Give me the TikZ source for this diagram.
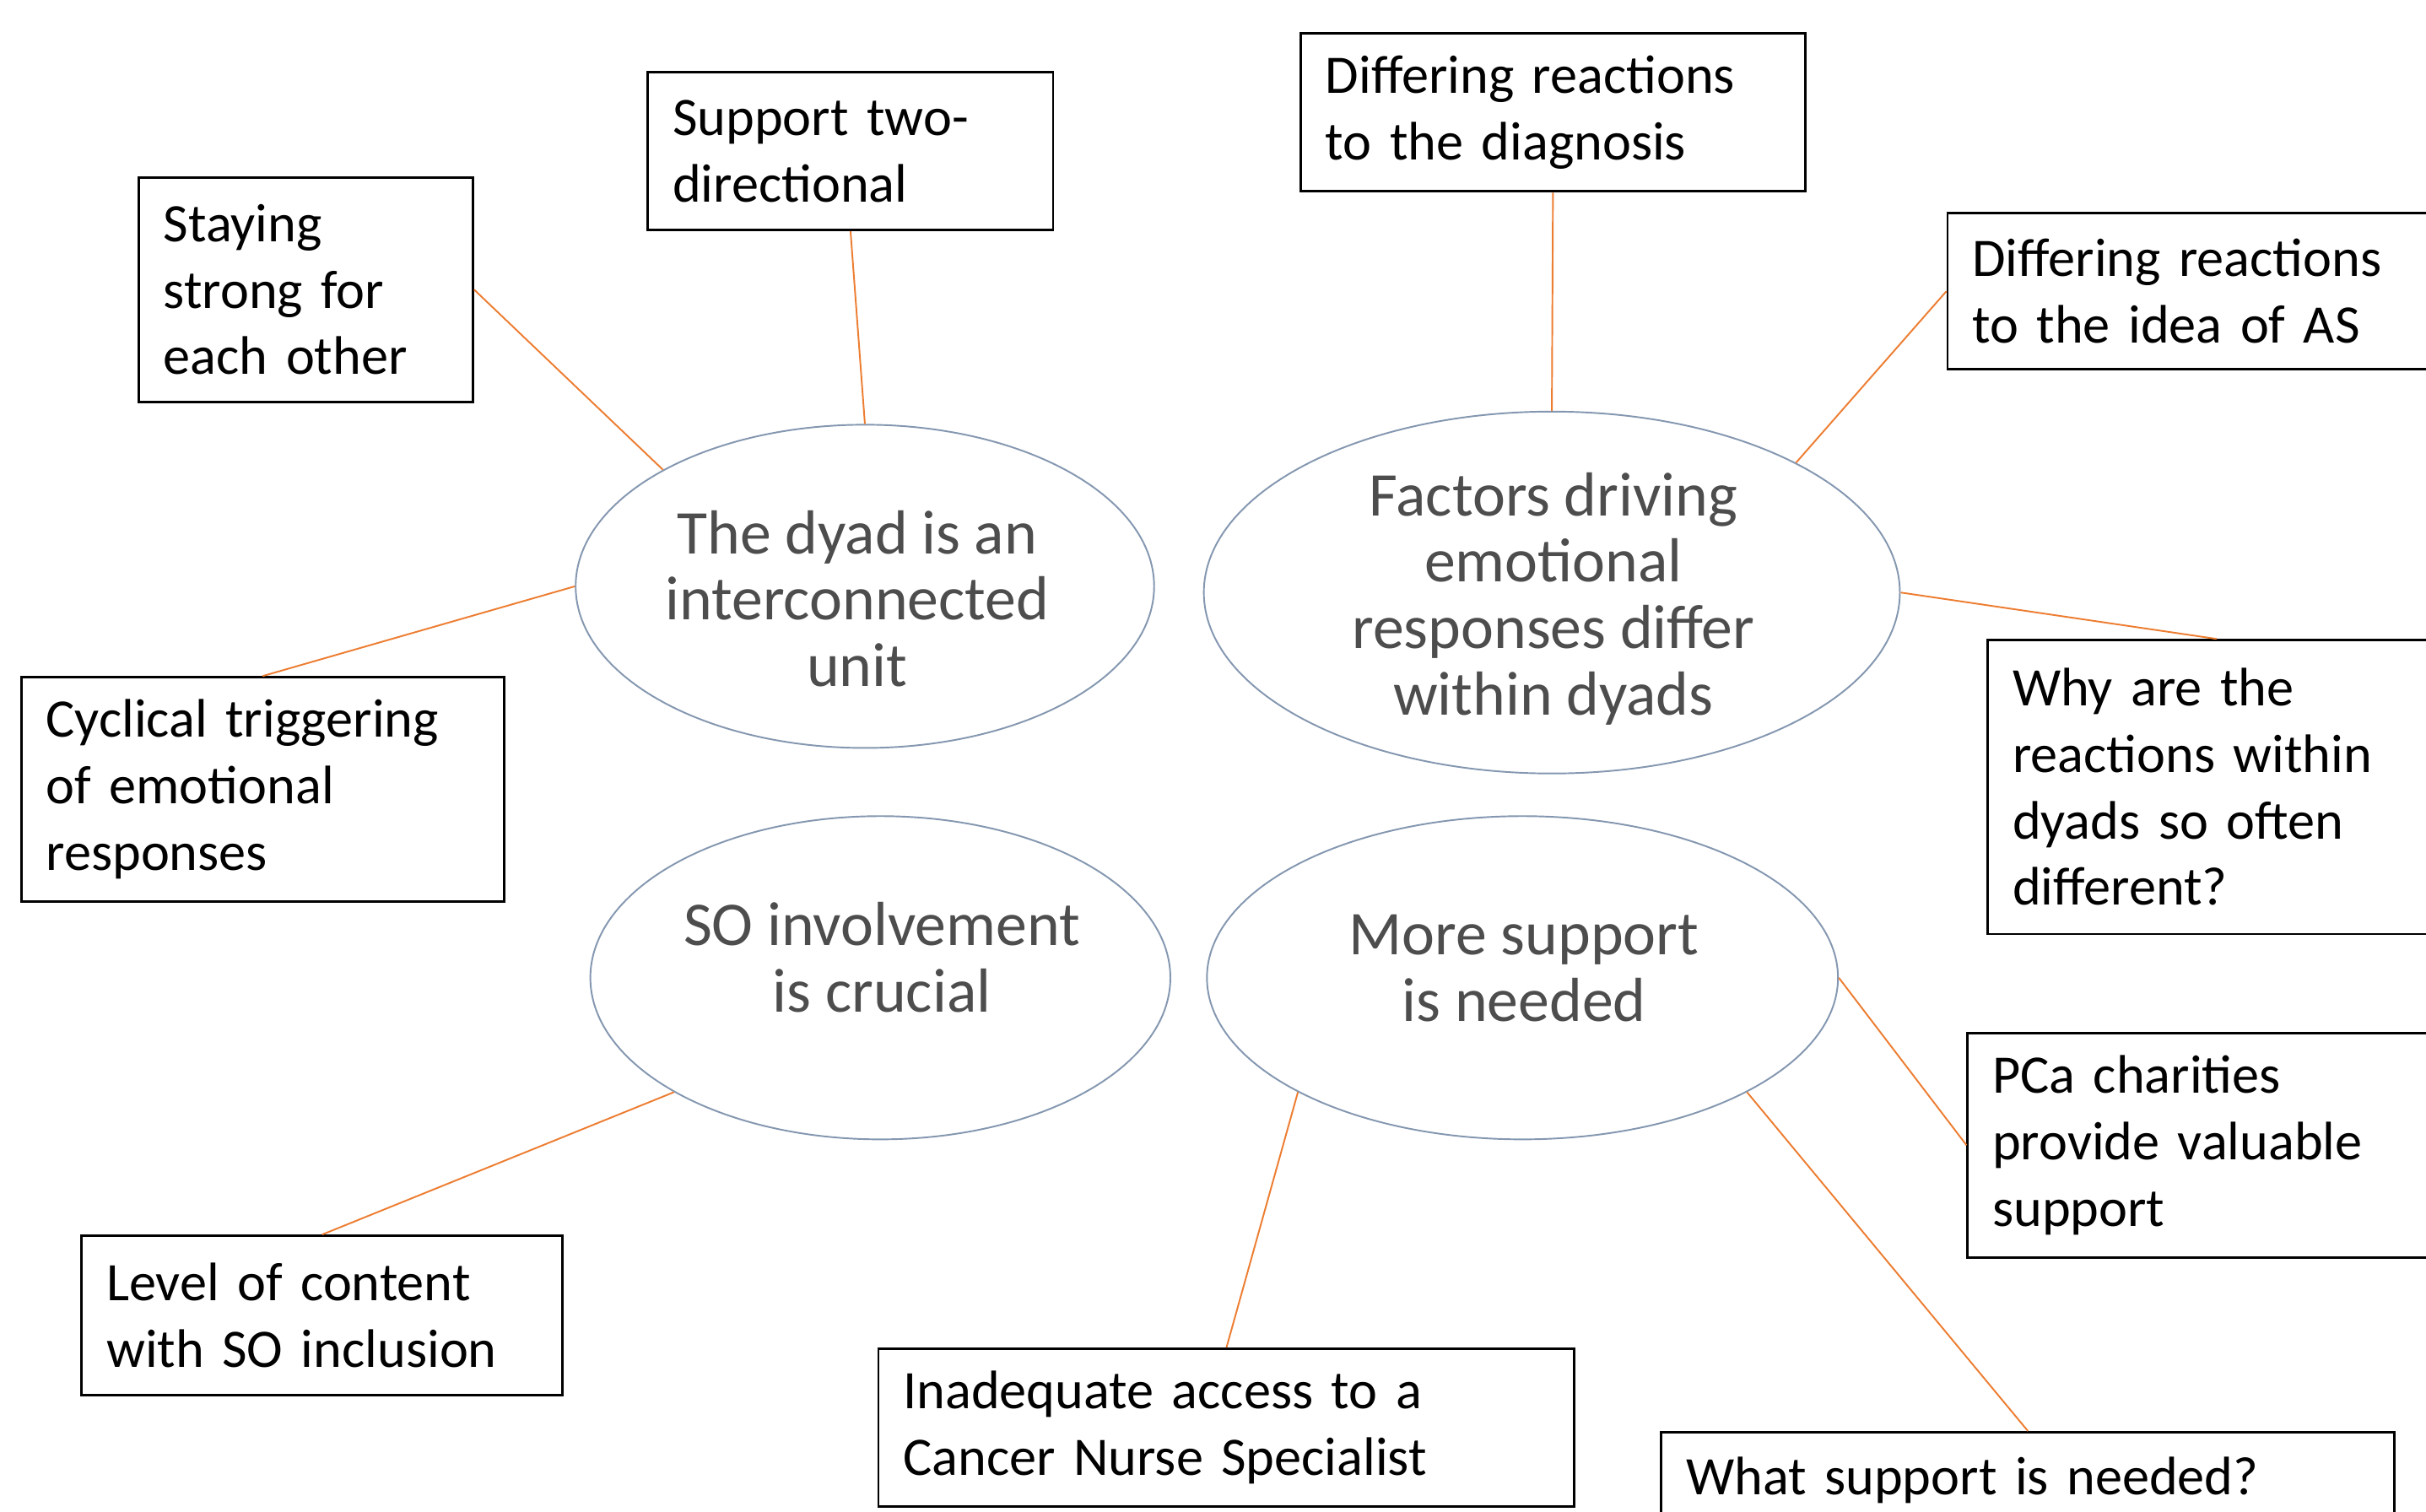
\documentclass[tikz,border=0pt]{standalone}
\usepackage{fontspec}
\setmainfont{Carlito}
\usetikzlibrary{shapes.geometric}
\def\px{0.52168pt}
\definecolor{conn}{HTML}{ED7D31}
\definecolor{ellbd}{HTML}{8497B0}
\definecolor{elltx}{HTML}{4D4D4D}
\tikzset{
  bx/.style 2 args={draw=black, line width=0.8pt, rectangle, anchor=north west,
    minimum width=#1*\px, minimum height=#2*\px, text width=#1*\px-32*\px,
    inner xsep=16*\px, inner ysep=0pt, align=left,
    font=\fontsize{18.3}{22.4}\selectfont, text=black},
  ell/.style 2 args={draw=ellbd, line width=0.55pt, ellipse, minimum width=#1*\px,
    minimum height=#2*\px, inner sep=0pt},
  etext/.style={align=center, font=\fontsize{21}{22.4}\selectfont, text=elltx, inner sep=0pt},
  link/.style={draw=conn, line width=0.55pt}
}
\begin{document}
\begin{tikzpicture}[x=0.018335cm, y=-0.018335cm]
\useasboundingbox (0,0) rectangle (1568,977);
\clip (0,0) rectangle (1568,977);
\fill[white] (0,0) rectangle (1568,977);

% ellipses
\node[ell={374}{209}] (e1) at (559,379) {};
\node[ell={450}{234}] (e2) at (1003,383) {};
\node[ell={375}{209}] (e3) at (569,632) {};
\node[ell={408}{209}] (e4) at (984,632) {};
\node[etext] (t1) at (554,387) {The dyad is an\\interconnected\\unit};
\node[etext] (t2) at (1004,387) {Factors driving\\emotional\\responses differ\\within dyads};
\node[etext] (t3) at (570,619) {SO involvement\\is crucial};
\node[etext] (t4) at (985,626) {More support\\is needed};

% boxes
\node[bx={216}{145}] (b1) at (89,114) {Staying\\strong for\\each other};
\node[bx={262}{102}] (b2) at (418,46) {Support two-\\directional};
\node[bx={326}{102}] (b3) at (840,21) {Differing reactions\\to the diagnosis};
\node[bx={332}{101}] (b4) at (1258,137) {Differing reactions\\to the idea of AS};
\node[bx={296}{190}] (b5) at (1284,413) {Why are the\\reactions within\\dyads so often\\different?};
\node[bx={312}{145}] (b6) at (13,437) {Cyclical triggering\\of emotional\\responses};
\node[bx={320}{145}] (b7) at (1271,667) {PCa charities\\provide valuable\\support};
\node[bx={474}{62}] (b8) at (1073,925) {What support is needed?};
\node[bx={311}{103}] (b9) at (52,798) {Level of content\\with SO inclusion};
\node[bx={450}{102}] (b10) at (567,871) {Inadequate access to a\\Cancer Nurse Specialist};

% connectors
\draw[link] (b1.east) -- (e1.150);
\draw[link] (b2.south) -- (e1.north);
\draw[link] (b6.north) -- (e1.west);
\draw[link] (b3.south) -- (e2.north);
\draw[link] (b4.west) -- (e2.28);
\draw[link] (b5.north) -- (e2.east);
\draw[link] (b9.north) -- (e3.209);
\draw[link] (b10.north) -- (e4.207);
\draw[link] (b7.west) -- (e4.east);
\draw[link] (b8.north) -- (e4.-27.5);
\end{tikzpicture}
\end{document}
